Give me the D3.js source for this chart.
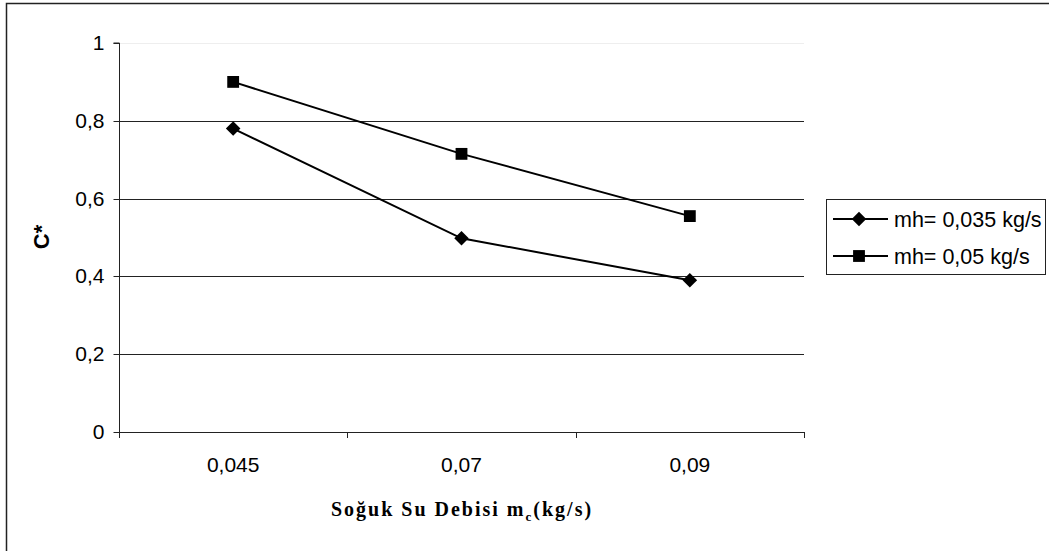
<!DOCTYPE html>
<html>
<head>
<meta charset="utf-8">
<script src="https://cdn.jsdelivr.net/npm/d3@7"></script>
<style>
  html, body { margin: 0; padding: 0; background: #fff; }
  svg { display: block; }
</style>
</head>
<body>
<svg id="chart" width="1049" height="551"></svg>
<script>
// Cold-water flow rate categories (kg/s) and effectiveness ratio C*
const categories = ["0,045", "0,07", "0,09"];
const seriesNames = ["mh= 0,035 kg/s", "mh= 0,05 kg/s"];
const mh035 = [0.78, 0.498, 0.39];
const mh050 = [0.90, 0.715, 0.555];
const yTicks = [0, 0.2, 0.4, 0.6, 0.8, 1];
const yTickLabels = ["0", "0,2", "0,4", "0,6", "0,8", "1"];

const svg = d3.select("#chart");
const plot = { left: 119, right: 804, top: 43, bottom: 432 };
const sans = "Liberation Sans, Arial, sans-serif";

// Outer chart frame
svg.append("rect")
  .attr("x", 6.5).attr("y", 3.5)
  .attr("width", 1100).attr("height", 600)
  .attr("fill", "none").attr("stroke", "#222").attr("stroke-width", 1.5);

const x = d3.scaleBand().domain(categories).range([plot.left, plot.right]).padding(0);
const y = d3.scaleLinear().domain([0, 1]).range([plot.bottom, plot.top]);

// Horizontal gridlines
svg.append("g").selectAll("line")
  .data(yTicks.filter(d => d > 0))
  .join("line")
  .attr("x1", plot.left).attr("x2", plot.right)
  .attr("y1", d => Math.round(y(d)) + 0.5).attr("y2", d => Math.round(y(d)) + 0.5)
  .attr("stroke", d => d === 1 ? "#eeeeee" : "#222")
  .attr("stroke-width", 1);

// Y axis
const yAxis = d3.axisLeft(y).tickValues(yTicks)
  .tickFormat((d, i) => yTickLabels[i]).tickSize(6).tickPadding(9);
const gy = svg.append("g").attr("transform", `translate(${plot.left + 0.5},0)`).call(yAxis);
gy.select(".domain").attr("stroke", "#222").attr("d", `M-6,${y(1)}H0V${y(0)}`);
gy.selectAll(".tick line").attr("stroke", "#222");
gy.selectAll(".tick").attr("transform", d => `translate(0,${Math.round(y(d)) + 0.5})`);
gy.selectAll("text").attr("font-family", sans)
  .attr("font-size", 21).attr("fill", "#000");

// X axis: ticks on category boundaries
const bounds = d3.range(categories.length + 1).map(i => plot.left + i * x.bandwidth());
const gx = svg.append("g");
gx.append("line").attr("x1", plot.left).attr("x2", plot.right)
  .attr("y1", plot.bottom + 0.5).attr("y2", plot.bottom + 0.5).attr("stroke", "#222");
gx.selectAll("line.tk").data(bounds).join("line").attr("class", "tk")
  .attr("x1", d => Math.round(d) + 0.5).attr("x2", d => Math.round(d) + 0.5)
  .attr("y1", plot.bottom).attr("y2", plot.bottom + 6).attr("stroke", "#222");
gx.selectAll("text").data(categories).join("text")
  .attr("x", d => x(d) + x.bandwidth() / 2).attr("y", 472)
  .attr("text-anchor", "middle")
  .attr("font-family", sans).attr("font-size", 21)
  .text(d => d);

// Series lines and markers
const line = d3.line().x((d, i) => x(categories[i]) + x.bandwidth() / 2).y(d => y(d));
const diamond = d3.symbol().type(d3.symbolDiamond2 || d3.symbolDiamond).size(135);
const square = d3.symbol().type(d3.symbolSquare).size(140);

function drawSeries(vals, sym) {
  svg.append("path").datum(vals).attr("d", line)
    .attr("fill", "none").attr("stroke", "#000").attr("stroke-width", 2);
  svg.append("g").selectAll("path").data(vals).join("path")
    .attr("d", sym)
    .attr("transform", (d, i) => `translate(${x(categories[i]) + x.bandwidth() / 2},${y(d)})`)
    .attr("fill", "#000");
}
drawSeries(mh035, diamond);
drawSeries(mh050, square);

// Y axis title
svg.append("text")
  .attr("transform", "translate(49,237) rotate(-90)")
  .attr("text-anchor", "middle")
  .attr("font-family", sans)
  .attr("font-weight", "bold").attr("font-size", 22)
  .text("C*");

// X axis title with subscript
const xt = svg.append("text")
  .attr("x", 462).attr("y", 516)
  .attr("text-anchor", "middle")
  .attr("font-family", "Liberation Serif, Times New Roman, serif")
  .attr("font-weight", "bold").attr("font-size", 20)
  .attr("letter-spacing", 2);
xt.append("tspan").text("Soğuk Su Debisi m");
xt.append("tspan").attr("font-size", 13).attr("dy", 5).text("c");
xt.append("tspan").attr("dy", -5).text("(kg/s)");

// Legend
const lg = svg.append("g");
lg.append("rect").attr("x", 826.5).attr("y", 199.5).attr("width", 219).attr("height", 75)
  .attr("fill", "#fff").attr("stroke", "#222");
const legendRows = [
  { name: seriesNames[0], sym: diamond, yy: 219 },
  { name: seriesNames[1], sym: square, yy: 256 }
];
legendRows.forEach(r => {
  lg.append("line").attr("x1", 833).attr("x2", 888).attr("y1", r.yy).attr("y2", r.yy)
    .attr("stroke", "#000").attr("stroke-width", 2);
  lg.append("path").attr("d", r.sym).attr("transform", `translate(859,${r.yy})`).attr("fill", "#000");
  lg.append("text").attr("x", 894).attr("y", r.yy + 7.5)
    .attr("font-family", sans).attr("font-size", 21.5)
    .text(r.name);
});
</script>
</body>
</html>
